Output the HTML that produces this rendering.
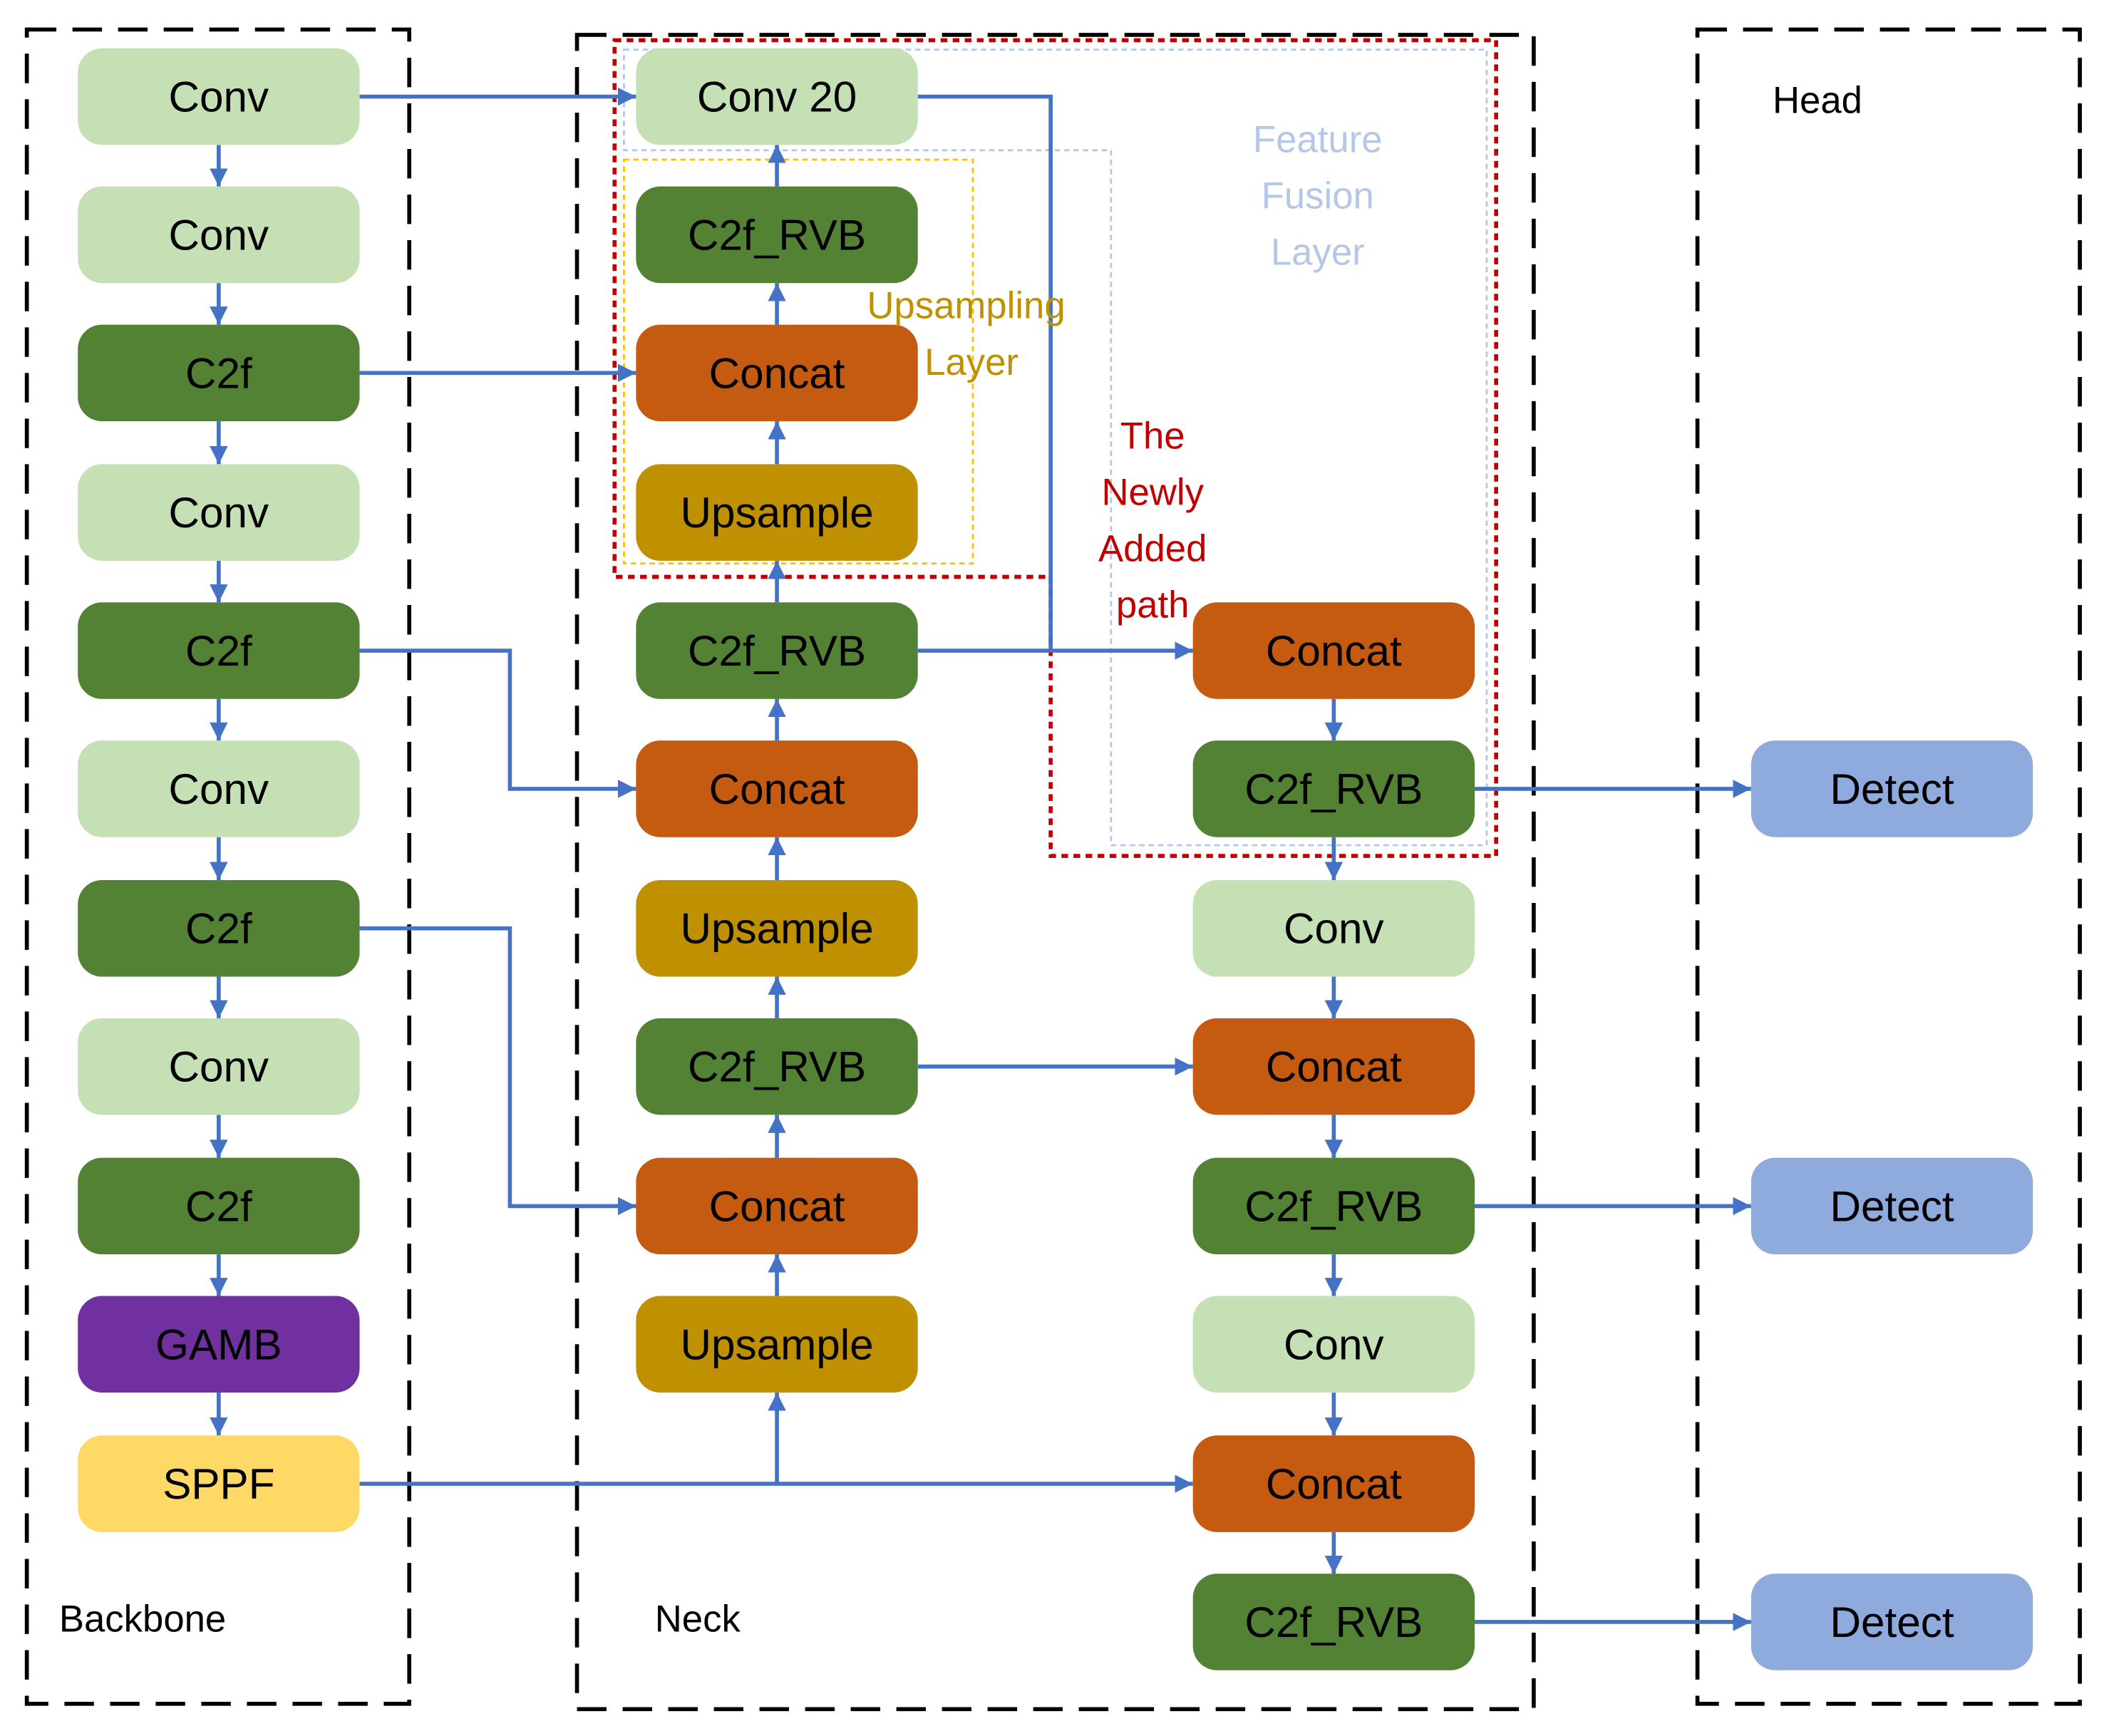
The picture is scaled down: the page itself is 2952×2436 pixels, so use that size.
<!DOCTYPE html>
<html><head><meta charset="utf-8"><style>html,body{margin:0;padding:0;background:#fff}svg{display:block}</style></head>
<body>
<svg width="2952" height="2436" viewBox="0 0 1568 1294" preserveAspectRatio="none" xmlns="http://www.w3.org/2000/svg" font-family="Liberation Sans, sans-serif">
<defs>
<marker id="a" viewBox="0 0 10 10" refX="10" refY="5" markerWidth="4.5" markerHeight="4.5" orient="auto" markerUnits="strokeWidth"><path d="M0,0L10,5L0,10z" fill="#4472c4"/></marker>
</defs>
<rect width="1568" height="1294" fill="#fff"/>
<g fill="none" stroke="#000" stroke-width="3" stroke-dasharray="22,12">
<rect x="20" y="22" width="285" height="1248"/>
<rect x="430" y="26" width="713" height="1248"/>
<rect x="1265" y="22" width="285" height="1248"/>
</g>
<polygon points="458,30 1115,30 1115,638 783,638 783,430 458,430" fill="none" stroke="#c00000" stroke-width="3" stroke-dasharray="5,4"/>
<polygon points="465,37 1108,37 1108,630 828,630 828,112 465,112" fill="none" stroke="#b4c7e7" stroke-width="1.5" stroke-dasharray="4,3"/>
<rect x="465" y="119" width="260" height="301" fill="none" stroke="#ffc000" stroke-width="1.5" stroke-dasharray="4,3"/>
<g stroke="#4472c4" stroke-width="3" fill="none" marker-end="url(#a)">
<line x1="163" y1="108" x2="163" y2="139"/><line x1="163" y1="211" x2="163" y2="242"/><line x1="163" y1="314" x2="163" y2="346"/><line x1="163" y1="418" x2="163" y2="449"/><line x1="163" y1="521" x2="163" y2="552"/><line x1="163" y1="624" x2="163" y2="656"/><line x1="163" y1="728" x2="163" y2="759"/><line x1="163" y1="831" x2="163" y2="863"/><line x1="163" y1="935" x2="163" y2="966"/><line x1="163" y1="1038" x2="163" y2="1070"/>
<line x1="579" y1="139" x2="579" y2="108"/><line x1="579" y1="242" x2="579" y2="211"/><line x1="579" y1="346" x2="579" y2="314"/><line x1="579" y1="449" x2="579" y2="418"/><line x1="579" y1="552" x2="579" y2="521"/><line x1="579" y1="656" x2="579" y2="624"/><line x1="579" y1="759" x2="579" y2="728"/><line x1="579" y1="863" x2="579" y2="831"/><line x1="579" y1="966" x2="579" y2="935"/><line x1="579" y1="1106" x2="579" y2="1038"/>
<line x1="994" y1="521" x2="994" y2="552"/><line x1="994" y1="624" x2="994" y2="656"/><line x1="994" y1="728" x2="994" y2="759"/><line x1="994" y1="831" x2="994" y2="863"/><line x1="994" y1="935" x2="994" y2="966"/><line x1="994" y1="1038" x2="994" y2="1070"/><line x1="994" y1="1142" x2="994" y2="1173"/>
<line x1="268" y1="72" x2="474" y2="72"/>
<line x1="268" y1="278" x2="474" y2="278"/>
<polyline points="268,485 380,485 380,588 474,588"/>
<polyline points="268,692 380,692 380,899 474,899"/>
<line x1="268" y1="1106" x2="889" y2="1106"/>
<line x1="684" y1="485" x2="889" y2="485"/>
<line x1="684" y1="795" x2="889" y2="795"/>
<line x1="1099" y1="588" x2="1305" y2="588"/>
<line x1="1099" y1="899" x2="1305" y2="899"/>
<line x1="1099" y1="1209" x2="1305" y2="1209"/>
</g>
<polyline points="684,72 783,72 783,485" fill="none" stroke="#4472c4" stroke-width="3"/>
<g font-size="32" text-anchor="middle" dominant-baseline="central" fill="#000">
<g>
<rect x="58" y="36" width="210" height="72" rx="18" fill="#c5e0b4"/><text x="163" y="72">Conv</text>
<rect x="58" y="139" width="210" height="72" rx="18" fill="#c5e0b4"/><text x="163" y="175">Conv</text>
<rect x="58" y="242" width="210" height="72" rx="18" fill="#548235"/><text x="163" y="278">C2f</text>
<rect x="58" y="346" width="210" height="72" rx="18" fill="#c5e0b4"/><text x="163" y="382">Conv</text>
<rect x="58" y="449" width="210" height="72" rx="18" fill="#548235"/><text x="163" y="485">C2f</text>
<rect x="58" y="552" width="210" height="72" rx="18" fill="#c5e0b4"/><text x="163" y="588">Conv</text>
<rect x="58" y="656" width="210" height="72" rx="18" fill="#548235"/><text x="163" y="692">C2f</text>
<rect x="58" y="759" width="210" height="72" rx="18" fill="#c5e0b4"/><text x="163" y="795">Conv</text>
<rect x="58" y="863" width="210" height="72" rx="18" fill="#548235"/><text x="163" y="899">C2f</text>
<rect x="58" y="966" width="210" height="72" rx="18" fill="#7030a0"/><text x="163" y="1002">GAMB</text>
<rect x="58" y="1070" width="210" height="72" rx="18" fill="#ffd966"/><text x="163" y="1106">SPPF</text>
</g>
<g>
<rect x="474" y="36" width="210" height="72" rx="18" fill="#c5e0b4"/><text x="579" y="72">Conv 20</text>
<rect x="474" y="139" width="210" height="72" rx="18" fill="#548235"/><text x="579" y="175">C2f_RVB</text>
<rect x="474" y="242" width="210" height="72" rx="18" fill="#c55a11"/><text x="579" y="278">Concat</text>
<rect x="474" y="346" width="210" height="72" rx="18" fill="#bf9000"/><text x="579" y="382">Upsample</text>
<rect x="474" y="449" width="210" height="72" rx="18" fill="#548235"/><text x="579" y="485">C2f_RVB</text>
<rect x="474" y="552" width="210" height="72" rx="18" fill="#c55a11"/><text x="579" y="588">Concat</text>
<rect x="474" y="656" width="210" height="72" rx="18" fill="#bf9000"/><text x="579" y="692">Upsample</text>
<rect x="474" y="759" width="210" height="72" rx="18" fill="#548235"/><text x="579" y="795">C2f_RVB</text>
<rect x="474" y="863" width="210" height="72" rx="18" fill="#c55a11"/><text x="579" y="899">Concat</text>
<rect x="474" y="966" width="210" height="72" rx="18" fill="#bf9000"/><text x="579" y="1002">Upsample</text>
</g>
<g>
<rect x="889" y="449" width="210" height="72" rx="18" fill="#c55a11"/><text x="994" y="485">Concat</text>
<rect x="889" y="552" width="210" height="72" rx="18" fill="#548235"/><text x="994" y="588">C2f_RVB</text>
<rect x="889" y="656" width="210" height="72" rx="18" fill="#c5e0b4"/><text x="994" y="692">Conv</text>
<rect x="889" y="759" width="210" height="72" rx="18" fill="#c55a11"/><text x="994" y="795">Concat</text>
<rect x="889" y="863" width="210" height="72" rx="18" fill="#548235"/><text x="994" y="899">C2f_RVB</text>
<rect x="889" y="966" width="210" height="72" rx="18" fill="#c5e0b4"/><text x="994" y="1002">Conv</text>
<rect x="889" y="1070" width="210" height="72" rx="18" fill="#c55a11"/><text x="994" y="1106">Concat</text>
<rect x="889" y="1173" width="210" height="72" rx="18" fill="#548235"/><text x="994" y="1209">C2f_RVB</text>
</g>
<g>
<rect x="1305" y="552" width="210" height="72" rx="18" fill="#8faadc"/><text x="1410" y="588">Detect</text>
<rect x="1305" y="863" width="210" height="72" rx="18" fill="#8faadc"/><text x="1410" y="899">Detect</text>
<rect x="1305" y="1173" width="210" height="72" rx="18" fill="#8faadc"/><text x="1410" y="1209">Detect</text>
</g>
</g>
<g font-size="28" dominant-baseline="central">
<text x="44" y="1207">Backbone</text>
<text x="488" y="1207">Neck</text>
<text x="1321" y="75">Head</text>
<g text-anchor="middle" fill="#b4c7e7"><text x="982" y="104">Feature</text><text x="982" y="146">Fusion</text><text x="982" y="188">Layer</text></g>
<g text-anchor="middle" fill="#bf9000"><text x="720" y="228">Upsampling</text><text x="724" y="270">Layer</text></g>
<g text-anchor="middle" fill="#c00000"><text x="859" y="325">The</text><text x="859" y="367">Newly</text><text x="859" y="409">Added</text><text x="859" y="451">path</text></g>
</g>
</svg>
</body></html>
